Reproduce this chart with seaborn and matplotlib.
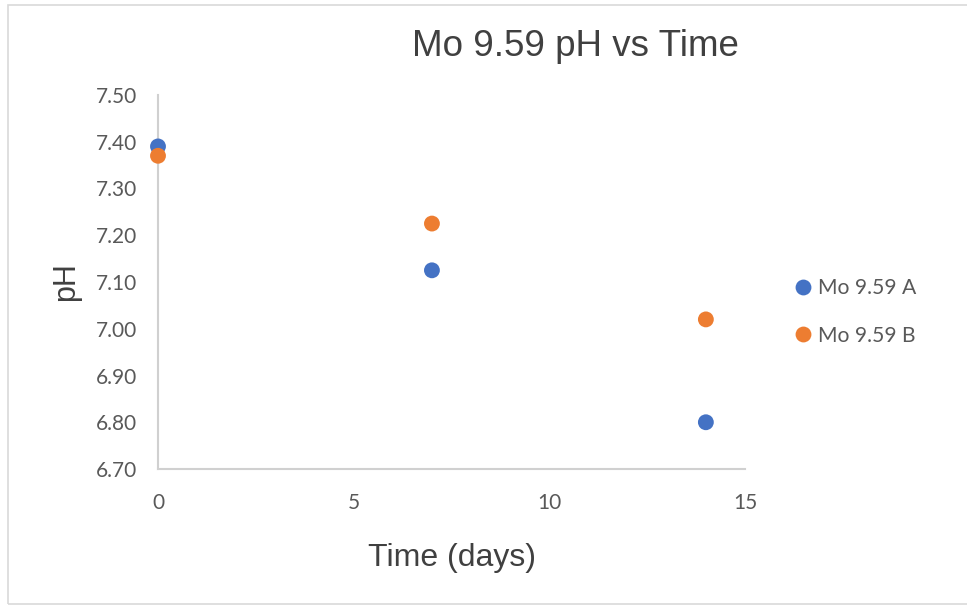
import matplotlib
matplotlib.use("Agg")
import matplotlib.pyplot as plt
from matplotlib.patches import Rectangle
import seaborn as sns
import pandas as pd

# Measurements of pH over time for the two Mo 9.59 samples
days = [0, 7, 14]
ph_a = [7.39, 7.125, 6.80]
ph_b = [7.37, 7.225, 7.02]
series_names = ["Mo 9.59 A", "Mo 9.59 B"]
y_ticks = [6.70, 6.80, 6.90, 7.00, 7.10, 7.20, 7.30, 7.40, 7.50]
x_ticks = [0, 5, 10, 15]

df = pd.DataFrame({
    "Time (days)": days * 2,
    "pH": ph_a + ph_b,
    "Series": [series_names[0]] * len(days) + [series_names[1]] * len(days),
})

sns.set_theme(style="white")
plt.rcParams["font.family"] = ["Liberation Sans", "DejaVu Sans"]

fig = plt.figure(figsize=(9.67, 6.05), dpi=100)
ax = fig.add_axes([158 / 967, 1 - 469 / 605, (745 - 158) / 967, (469 - 95) / 605])

palette = {series_names[0]: "#4472C4", series_names[1]: "#ED7D31"}
sns.scatterplot(data=df, x="Time (days)", y="pH", hue="Series", palette=palette,
                s=130, edgecolor="none", ax=ax, zorder=3, clip_on=False)

ax.set_xlim(0, 15)
ax.set_ylim(6.70, 7.50)
ax.set_xticks(x_ticks)
ax.set_yticks(y_ticks)
ax.set_yticklabels([f"{v:.2f}" for v in y_ticks])

tick_family = ["Lato", "DejaVu Sans"]
for lbl in ax.get_xticklabels() + ax.get_yticklabels():
    lbl.set_fontfamily(tick_family)
    lbl.set_fontsize(15)
    lbl.set_color("#595959")
ax.tick_params(axis="both", length=0)
ax.tick_params(axis="x", pad=17)
ax.tick_params(axis="y", pad=15)

for side in ["top", "right"]:
    ax.spines[side].set_visible(False)
for side in ["left", "bottom"]:
    ax.spines[side].set_color("#D0D0D0")
    ax.spines[side].set_linewidth(1.5)
ax.grid(False)

ax.set_xlabel("Time (days)", fontsize=23, color="#404040", labelpad=22)
ax.set_ylabel("pH", fontsize=22, color="#404040", labelpad=11)
fig.text(575 / 967, 1 - 47 / 605, "Mo 9.59 pH vs Time", fontsize=26.5,
         color="#404040", ha="center", va="center")

leg = ax.legend(loc="center left", bbox_to_anchor=(1.049, 0.42), frameon=False,
                handlelength=1.0, handletextpad=0.2, labelspacing=1.3,
                prop={"family": tick_family, "size": 15.2})
for t in leg.get_texts():
    t.set_color("#595959")

# light frame around the chart area
fig.patches.append(Rectangle((8 / 967, 1 / 605), 1.0, 1 - 6 / 605,
                             transform=fig.transFigure, fill=False,
                             edgecolor="#D9D9D9", linewidth=1.2))

fig.savefig("out.png", dpi=100)
